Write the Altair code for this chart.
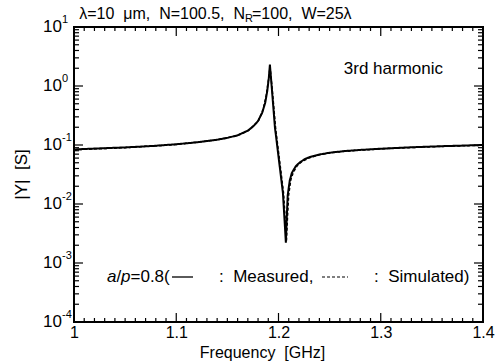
import altair as alt
import pandas as pd

# ---- data ----
freq_meas = [1.000, 1.020, 1.050, 1.080, 1.100, 1.120, 1.140, 1.150, 1.160, 1.170,
             1.175, 1.180, 1.184, 1.187, 1.189, 1.1905, 1.1916, 1.1940, 1.1965, 1.2004,
             1.2043, 1.2063, 1.2072, 1.2080, 1.2090, 1.2110, 1.2130, 1.2170, 1.2210, 1.2260,
             1.2310, 1.2400, 1.2500, 1.2650, 1.2800, 1.3000, 1.3300, 1.3600, 1.4000]
mag_meas = [0.084, 0.087, 0.091, 0.097, 0.103, 0.111, 0.123, 0.132, 0.146, 0.175,
            0.205, 0.255, 0.350, 0.520, 0.820, 1.35, 2.30, 0.70, 0.20, 0.056,
            0.0155, 0.0041, 0.0022, 0.0055, 0.0140, 0.0250, 0.0335, 0.0440, 0.0510, 0.0580,
            0.0630, 0.0690, 0.0740, 0.0790, 0.0825, 0.0865, 0.0915, 0.0955, 0.1000]

freq_sim = [1.000, 1.050, 1.100, 1.140, 1.160, 1.170, 1.180, 1.185, 1.188, 1.190,
            1.1918, 1.1945, 1.1972, 1.2012, 1.2050, 1.2070, 1.2078, 1.2088, 1.2100, 1.2120,
            1.2145, 1.2185, 1.2230, 1.2290, 1.2400, 1.2550, 1.2800, 1.3100, 1.3500, 1.4000]
mag_sim = [0.083, 0.090, 0.102, 0.122, 0.145, 0.173, 0.250, 0.400, 0.700, 1.20,
           2.10, 0.66, 0.19, 0.052, 0.0150, 0.0042, 0.0024, 0.0060, 0.0145, 0.0255,
           0.0345, 0.0450, 0.0525, 0.0595, 0.0685, 0.0755, 0.0820, 0.0875, 0.0935, 0.0990]

x_major = [1.0, 1.1, 1.2, 1.3, 1.4]
x_minor = [round(1.0 + i * 0.01, 2) for i in range(1, 40) if i % 10 != 0]
y_decades = [1e-4, 1e-3, 1e-2, 1e-1, 1e0, 1e1]
y_exponents = ["-4", "-3", "-2", "-1", "0", "1"]
y_minor = [k * 10.0 ** e for e in range(-4, 1) for k in range(2, 10)]

W, H = 409, 295
FONT = "Liberation Sans"
S2 = "\u00a0 "  # visible double space
TXT_COLOR = "black"

df = pd.concat([
    pd.DataFrame({"f": freq_meas, "v": mag_meas, "series": "Measured"}),
    pd.DataFrame({"f": freq_sim, "v": mag_sim, "series": "Simulated"}),
])
one = pd.DataFrame({"k": [0]})  # single row for annotations

xscale = alt.Scale(domain=[1.0, 1.4], nice=False, zero=False)
yscale = alt.Scale(type="log", domain=[1e-4, 10], nice=False)

xaxis = alt.Axis(values=x_major, format="~g", ticks=False, domain=False, grid=False,
                 labelFont=FONT, labelFontSize=16, labelColor=TXT_COLOR, labelPadding=2,
                 labelFlush=False, labelFontWeight="normal",
                 title="Frequency" + S2 + "[GHz]", titleFont=FONT, titleFontSize=16,
                 titleFontWeight="normal", titleColor=TXT_COLOR,
                 titleX=188, titleY=35, titleBaseline="alphabetic", titleAlign="center")

base = alt.Chart(df)

lines = base.mark_line(color="black", clip=True).encode(
    x=alt.X("f:Q", scale=xscale, axis=xaxis),
    y=alt.Y("v:Q", scale=yscale, axis=None),
    strokeDash=alt.StrokeDash("series:N", scale=alt.Scale(domain=["Measured", "Simulated"],
                                                          range=[[1, 0], [3, 2]]), legend=None),
    strokeWidth=alt.StrokeWidth("series:N", scale=alt.Scale(domain=["Measured", "Simulated"],
                                                            range=[2, 1.5]), legend=None),
    detail="series:N",
)

# ---- inward ticks ----
def xticks(vals, length):
    d = pd.DataFrame({"f": vals})
    bot = alt.Chart(d).mark_rule(color="black", strokeWidth=1.2).encode(
        x=alt.X("f:Q", scale=xscale), y=alt.value(H), y2=alt.value(H - length))
    top = alt.Chart(d).mark_rule(color="black", strokeWidth=1.2).encode(
        x=alt.X("f:Q", scale=xscale), y=alt.value(0), y2=alt.value(length))
    return bot + top

def yticks(vals, length):
    d = pd.DataFrame({"v": vals})
    lef = alt.Chart(d).mark_rule(color="black", strokeWidth=1.2).encode(
        y=alt.Y("v:Q", scale=yscale), x=alt.value(0), x2=alt.value(length))
    rig = alt.Chart(d).mark_rule(color="black", strokeWidth=1.2).encode(
        y=alt.Y("v:Q", scale=yscale), x=alt.value(W), x2=alt.value(W - length))
    return lef + rig

ticks = xticks([1.1, 1.2, 1.3], 9) + xticks(x_minor, 4) + yticks(y_decades[1:-1], 9) + yticks(y_minor, 5)

# ---- y tick labels: 10 with superscript exponent ----
ylab_df = pd.DataFrame({"v": y_decades, "e": y_exponents})
ylab_base = alt.Chart(ylab_df).mark_text(align="right", baseline="middle", font=FONT,
                                         fontSize=17, fontWeight="normal", color=TXT_COLOR).encode(
    y=alt.Y("v:Q", scale=yscale), x=alt.value(-12), text=alt.value("10"))
ylab_exp = alt.Chart(ylab_df).mark_text(align="left", baseline="middle", font=FONT,
                                        fontSize=11, fontWeight="normal", color=TXT_COLOR,
                                        dy=-7).encode(
    y=alt.Y("v:Q", scale=yscale), x=alt.value(-12), text="e:N")

# ---- annotations ----
def txt(s, x, y, align="left", size=17, style="normal", dy=0, angle=0):
    return alt.Chart(one).mark_text(align=align, baseline="middle", font=FONT,
                                    fontSize=size, fontStyle=style, fontWeight="normal",
                                    color=TXT_COLOR, dy=dy, angle=angle).encode(
        x=alt.value(x), y=alt.value(y), text=alt.value(s))

ytitle = txt("|Y|" + S2 + "[S]", -52, H / 2, align="center", angle=270)

top1 = txt("\u03bb=10" + S2 + "\u03bcm," + S2 + "N=100.5," + S2 + "N", 171, -13,
           align="right", size=16)
top2 = txt("R", 171, -13, size=11, dy=5)
top3 = txt("=100," + S2 + "W=25\u03bb", 178, -13, size=16)

harm = txt("3rd harmonic", 369, 42, align="right")

leg_y = 250
leg = (txt("a", 33, leg_y, style="italic") + txt("/", 42.5, leg_y) +
       txt("p", 47, leg_y, style="italic") + txt("=0.8(", 56.5, leg_y) +
       txt(":" + S2 + "Measured,", 145, leg_y) + txt(":" + S2 + "Simulated)", 300, leg_y))

solid_s = alt.Chart(one).mark_rule(color="black", strokeWidth=1.3).encode(
    x=alt.value(98), x2=alt.value(119), y=alt.value(leg_y))
dash_s = alt.Chart(one).mark_rule(color="black", strokeWidth=1.2, strokeDash=[3, 2]).encode(
    x=alt.value(248), x2=alt.value(274), y=alt.value(leg_y))

chart = alt.layer(
    lines, ticks, ylab_base, ylab_exp, ytitle, top1, top2, top3, harm, leg, solid_s, dash_s
).properties(
    width=W, height=H,
    autosize=alt.AutoSizeParams(type="none"),
    padding={"left": 74, "top": 27, "right": 20, "bottom": 39},
    background="white",
).configure_view(stroke="black", strokeWidth=2)

chart.save("out.html", embed_options={"renderer": "svg", "actions": False})
